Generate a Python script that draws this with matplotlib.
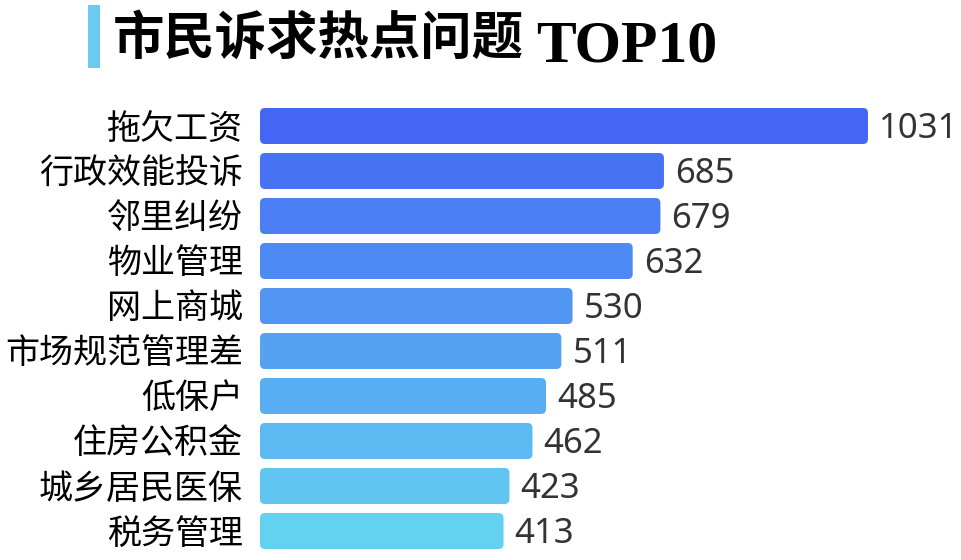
import matplotlib
matplotlib.use('Agg')
import matplotlib.pyplot as plt
import numpy as np
from matplotlib.colors import to_rgb, to_hex
from matplotlib.patches import FancyBboxPatch, Rectangle

plt.rcParams['font.family'] = ['Noto Sans CJK SC', 'DejaVu Sans']

categories = ['拖欠工资', '行政效能投诉', '邻里纠纷', '物业管理', '网上商城',
              '市场规范管理差', '低保户', '住房公积金', '城乡居民医保', '税务管理']
values = [1031, 685, 679, 632, 530, 511, 485, 462, 423, 413]
title_cn = '市民诉求热点问题'
title_en = 'TOP10'

W, H = 962, 560
fig = plt.figure(figsize=(W / 100, H / 100), dpi=100)

# axes placed in pixels: bars start at x=260, rows 45px apart
ax_left, ax_width = 260, 700
ax_top, ax_height = 103.5, 450
ax = fig.add_axes([ax_left / W, 1 - (ax_top + ax_height) / H,
                   ax_width / W, ax_height / H])
px_per_unit = 608 / 1031
xmax = ax_width / px_per_unit
ax.set_xlim(0, xmax)
ax.set_ylim(len(values) - 0.5, -0.5)
ax.axis('off')

c0 = np.array(to_rgb('#4466f5'))
c1 = np.array(to_rgb('#63d1f0'))
bar_h = 36 / 45
radius_px = 5
rx = radius_px / px_per_unit
ry = radius_px / 45
text_dy = 3 / 45
for i, (cat, v) in enumerate(zip(categories, values)):
    t = i / (len(values) - 1)
    color = to_hex(c0 + (c1 - c0) * t)
    patch = FancyBboxPatch((0, i - bar_h / 2), v, bar_h,
                           boxstyle=f'round,pad=0,rounding_size={rx}',
                           mutation_aspect=ry / rx,
                           facecolor=color, edgecolor='none')
    ax.add_patch(patch)
    ax.text(v + 11 / px_per_unit, i + text_dy, str(v), va='center',
            ha='left', fontsize=25, color='#333333', fontweight='medium',
            family=['Noto Sans', 'DejaVu Sans'])
    ax.text(-17 / px_per_unit, i + text_dy, cat, va='center', ha='right',
            fontsize=24.5, color='black', fontweight='medium', clip_on=False)

# title with accent bar
fig.patches.append(Rectangle((88 / W, 1 - 68 / H), 12 / W, 63 / H,
                             transform=fig.transFigure, facecolor='#6ccaf0',
                             edgecolor='none'))
fig.text(113 / W, 1 - 38 / H, title_cn, ha='left', va='center',
         fontsize=37, fontweight='black', color='black')
fig.text(536 / W, 1 - 62 / H, title_en, ha='left', va='baseline',
         fontsize=43, fontweight='bold', color='black',
         family=['Liberation Serif', 'DejaVu Serif'])

fig.savefig('out.png', dpi=100)
